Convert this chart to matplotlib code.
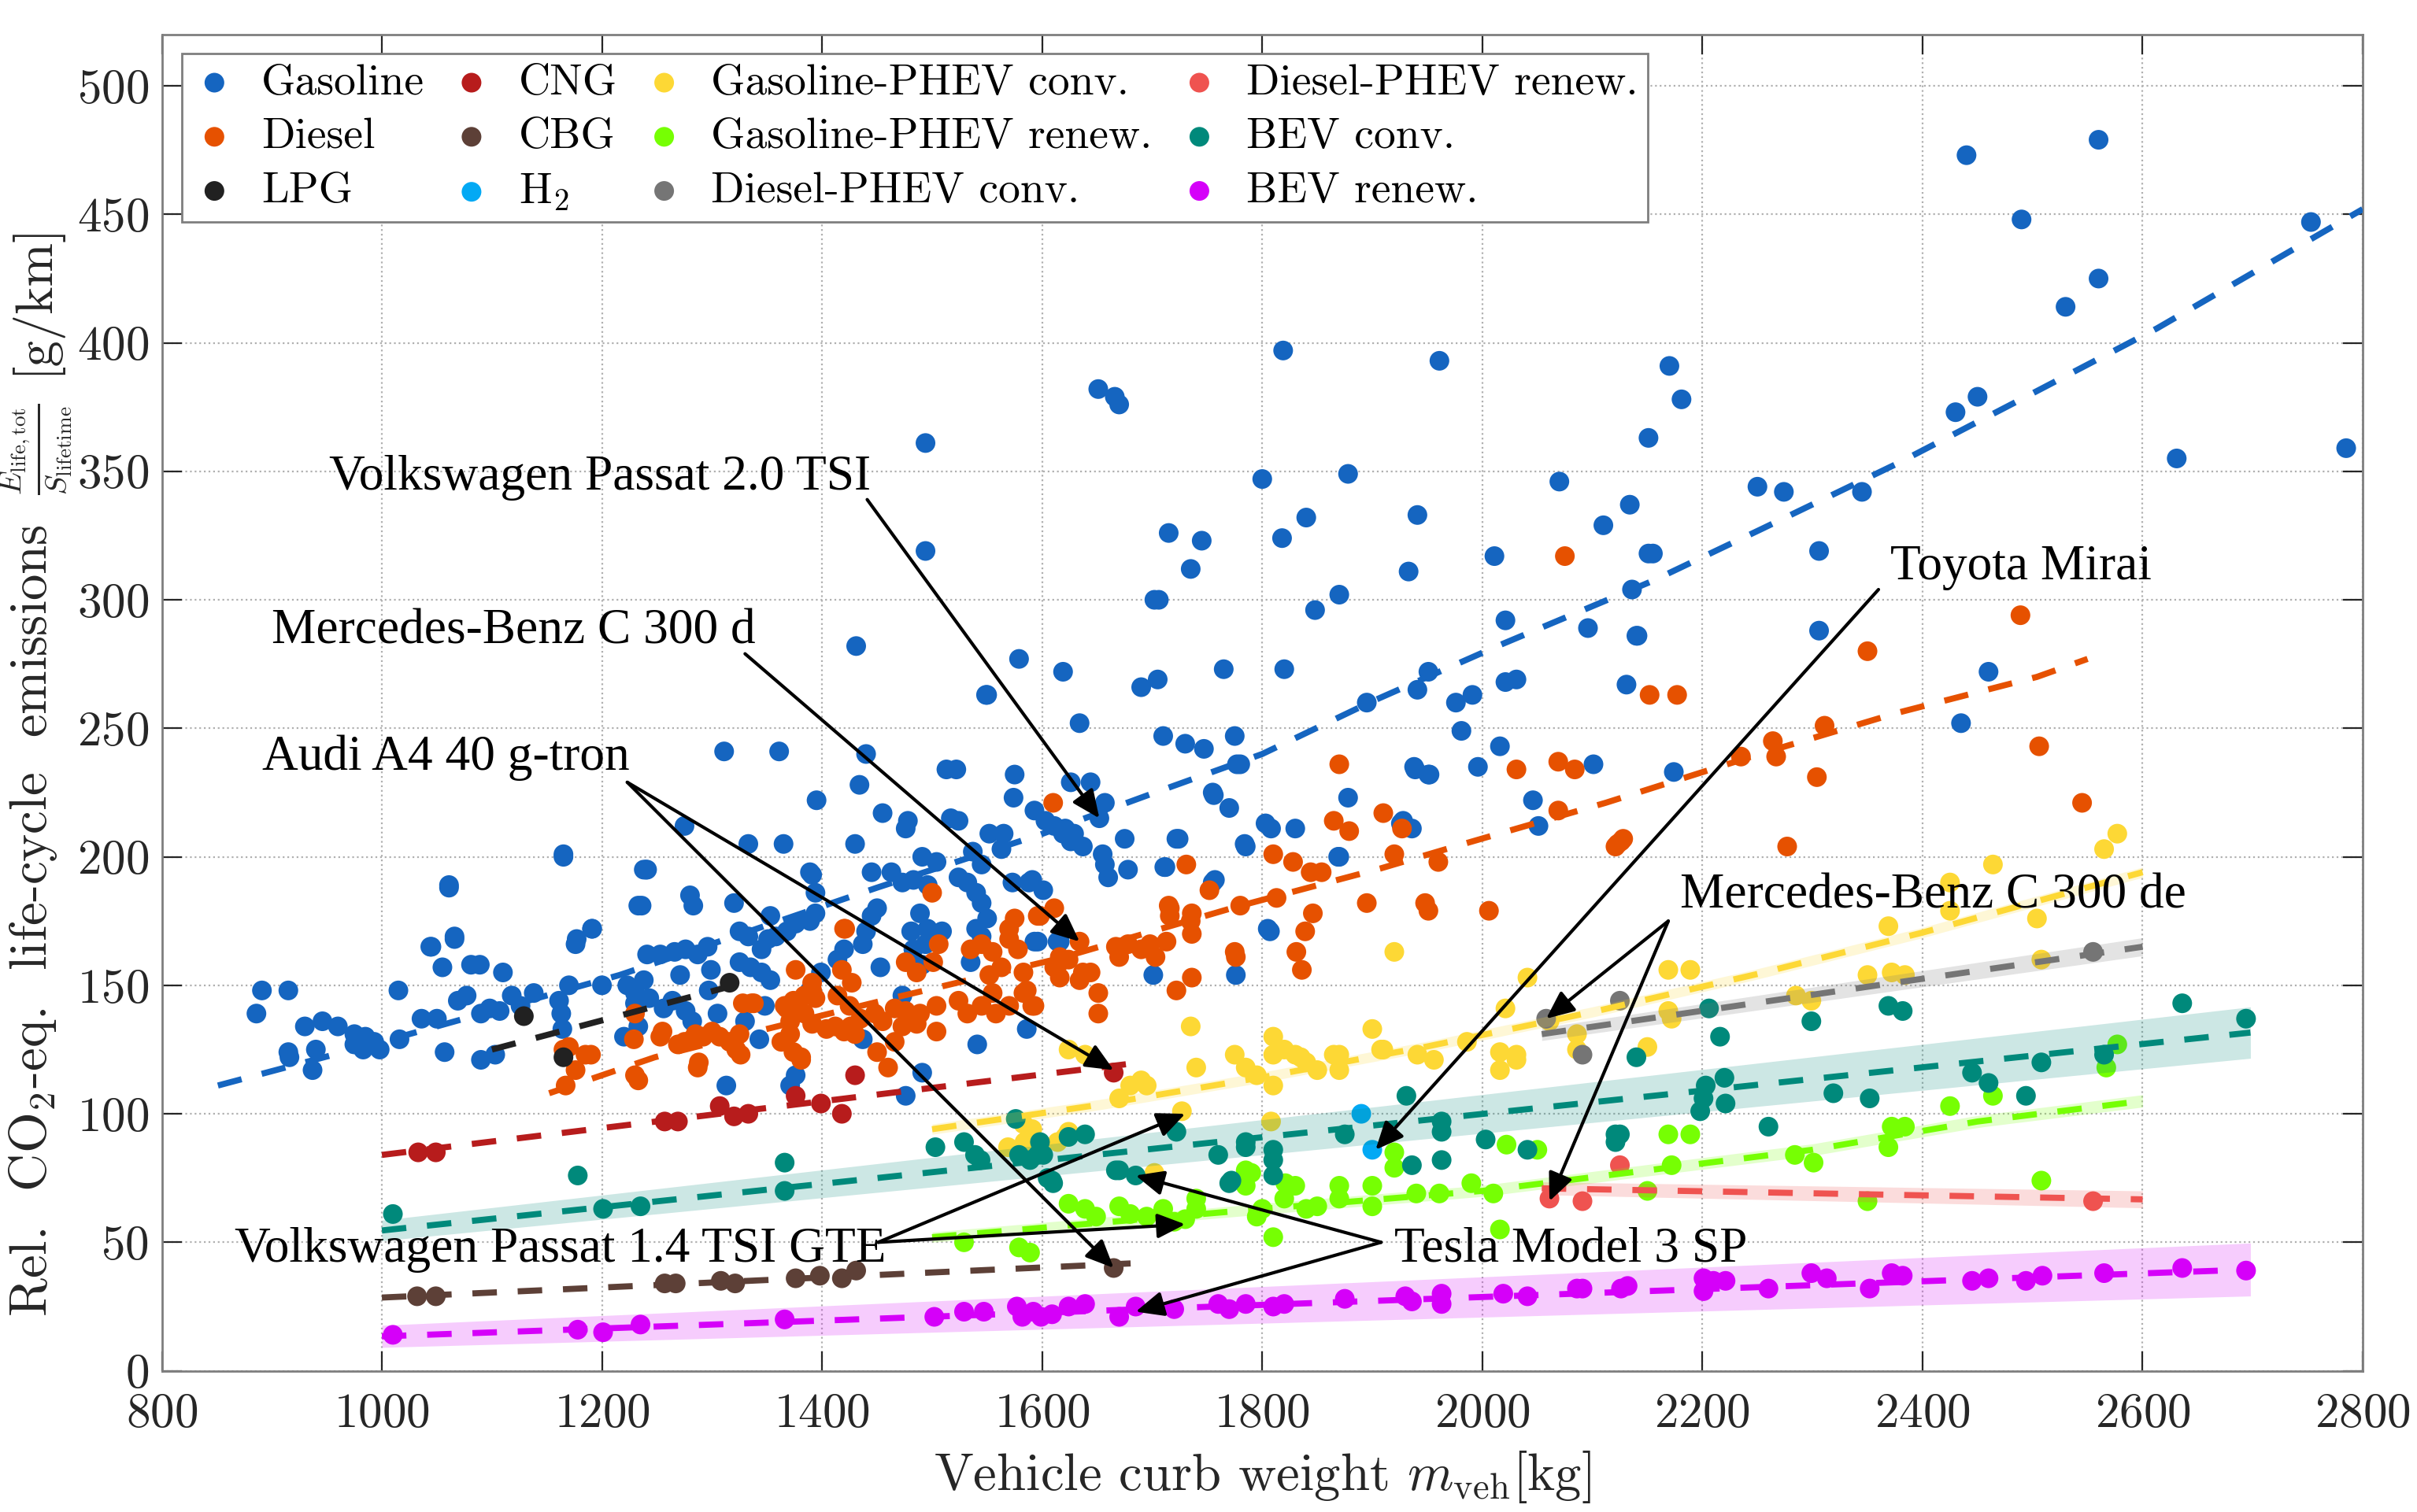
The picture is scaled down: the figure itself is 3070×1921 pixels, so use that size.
import matplotlib
matplotlib.use('Agg')
import matplotlib.pyplot as plt
import numpy as np

plt.rcParams['mathtext.fontset'] = 'cm'
plt.rcParams['axes.formatter.use_mathtext'] = True
plt.rcParams['font.family'] = ['cmr10', 'DejaVu Serif']

# ---------------- data ----------------
labels = ['Gasoline', 'Diesel', 'LPG', 'CNG', 'CBG', 'H$_2$',
          'Gasoline-PHEV conv.', 'Gasoline-PHEV renew.', 'Diesel-PHEV conv.',
          'Diesel-PHEV renew.', 'BEV conv.', 'BEV renew.']
colors = ['#1565c0', '#e65100', '#212121', '#b71c1c', '#5d4037', '#03a9f4',
          '#fdd835', '#76ff03', '#757575', '#ef5350', '#00897b', '#d500f9']

gas_x = [891, 915, 886, 930, 946, 960, 915, 916, 940, 937, 975, 985, 975, 993, 998, 983, 1015, 1016, 1036, 1050,
         1057, 1045, 1066, 1061, 1055, 1081, 1089, 1110, 1069, 1077, 1090, 1098, 1107, 1090, 1103, 1118, 1126, 1138,
         1165, 1176, 1191, 1170, 1161, 1163, 1164, 1200, 1223, 1230, 1220, 1233, 1238,
         1550, 1311, 1361, 1440, 1434, 1395, 1513, 1522, 1575, 1574, 1455, 1478, 1476, 1517, 1524, 1593, 1603, 1611,
         1619, 1275, 1333, 1365, 1430, 1552, 1565, 1563, 1491, 1504, 1537, 1545, 1241, 1389, 1445, 1463, 1473, 1483,
         1496, 1524, 1532, 1540, 1545, 1573, 1588, 1601, 1236, 1280, 1283, 1320, 1394, 1353, 1394, 1389, 1376, 1368,
         1358, 1351, 1345, 1325, 1333, 1450, 1445, 1440, 1437, 1420, 1414, 1489, 1481, 1496, 1509, 1494, 1483, 1491,
         1550, 1540, 1545, 1535, 1596, 1616, 1241, 1253, 1266, 1276, 1287, 1296, 1325, 1335, 1345, 1353, 1299, 1271,
         1238, 1230, 1243, 1264, 1276, 1256, 1282, 1297, 1305, 1330, 1348, 1343, 1389, 1399, 1453, 1473, 1437, 1586,
         1541, 1491, 1376, 1371, 1313, 1476, 1233,
         1626, 1644, 1657, 1652, 1621, 1629, 1637, 1626, 1675, 1655, 1657, 1660, 1678, 1724, 1711, 1757, 1756, 1770,
         1780, 1784, 1803, 1808, 1830, 1878, 1869, 1939, 1952, 1928, 1936, 1807, 1701, 1776, 1593, 1614, 1591,
         1800, 1878, 2070, 1840, 1818, 1941, 1933, 2134, 2110, 1715, 1745, 1735, 1702, 1706, 1848, 1870, 2011, 2021,
         2096, 2141, 2151, 2136, 2131, 1431, 1579, 1494, 1619, 1549, 1634, 1690, 1705, 1765, 1820, 1895, 1941, 1951,
         1976, 1991, 1981, 2021, 2031, 2016, 1710, 1730, 1747, 1775, 1777, 1938, 1951, 1996, 2101, 2046, 2051, 1755,
         1870, 1926, 1722, 1712, 1755, 1805, 1785,
         2250, 2274, 2345, 2155, 2140, 2306, 2306, 2174, 2460, 2435,
         2440, 2560, 2490, 2560, 2530, 2753, 2785, 2631, 2430, 2450, 2170, 2181, 2151, 1819, 1961, 1651, 1666, 1670,
         1494, 1165, 1240, 1391, 1061, 1044, 1066, 1177, 1191]
gas_y = [148, 148, 139, 134, 136, 134, 124, 122, 125, 117, 131, 130, 127, 128, 125, 125, 148, 129, 137, 137,
         124, 165, 169, 188, 157, 158, 158, 155, 144, 146, 139, 141, 140, 121, 123, 146, 142, 147,
         201, 166, 172, 150, 144, 139, 133, 150, 150, 143, 130, 181, 195,
         263, 241, 241, 240, 228, 222, 234, 234, 232, 223, 217, 214, 211, 215, 214, 218, 214, 212,
         209, 212, 205, 205, 205, 209, 209, 203, 200, 198, 202, 197, 195, 194, 194, 194, 190, 191,
         189, 192, 190, 186, 182, 190, 190, 187, 181, 185, 181, 182, 186, 177, 178, 175, 174, 171,
         169, 168, 164, 171, 169, 180, 177, 171, 166, 164, 160, 178, 171, 172, 171, 166, 164, 158,
         176, 172, 169, 159, 167, 167, 162, 162, 163, 164, 162, 165, 159, 157, 155, 152, 156, 154,
         152, 147, 145, 144, 140, 141, 136, 148, 139, 136, 142, 129, 148, 155, 157, 146, 129, 133,
         127, 116, 115, 111, 111, 107, 134,
         229, 229, 221, 215, 211, 209, 204, 206, 207, 201, 197, 192, 195, 207, 196, 191, 224, 219,
         236, 205, 213, 211, 211, 223, 200, 234, 232, 214, 211, 171, 154, 154, 167, 167, 191,
         347, 349, 346, 332, 324, 333, 311, 337, 329, 326, 323, 312, 300, 300, 296, 302, 317, 292,
         289, 286, 318, 304, 267, 282, 277, 319, 272, 263, 252, 266, 269, 273, 273, 260, 265, 272,
         260, 263, 249, 268, 269, 243, 247, 244, 242, 247, 236, 235, 232, 235, 236, 222, 212, 225,
         200, 213, 207, 196, 190, 172, 204,
         344, 342, 342, 318, 286, 319, 288, 233, 272, 252,
         473, 479, 448, 425, 414, 447, 359, 355, 373, 379, 391, 378, 363, 397, 393, 382, 379, 376,
         361, 200, 195, 193, 189, 165, 168, 168, 172]

dsl_x = [1165, 1176, 1190, 1167, 1230, 1229, 1230, 1170, 1185, 1255, 1275, 1285, 1300, 1288, 1316, 1326, 1336,
         1366, 1376, 1391, 1371, 1381, 1418, 1421, 1426,
         1610, 1500, 1611, 1575, 1570, 1598, 1506, 1535, 1545, 1555, 1570, 1578, 1563, 1552, 1583, 1476, 1486,
         1501, 1616, 1616, 1420, 1427, 1414, 1425, 1435, 1448, 1455, 1391, 1384, 1394, 1374, 1384, 1391, 1404,
         1412, 1368, 1371, 1328, 1338, 1420, 1430, 1466, 1476, 1489, 1504, 1486, 1473, 1524, 1532, 1545, 1558,
         1555, 1570, 1583, 1593, 1586, 1504, 1450, 1460, 1466, 1363, 1374, 1381, 1287, 1233, 1253, 1269, 1282,
         1292, 1307, 1322, 1325,
         1596, 1634, 1616, 1624, 1611, 1637, 1644, 1634, 1591, 1651, 1651, 1667, 1678, 1690, 1698, 1703, 1670,
         1713, 1716, 1716, 1736, 1736, 1731, 1752, 1780, 1813, 1776, 1736, 1722, 1810, 1828, 1844, 1854, 1846,
         1839, 1831, 1836, 1865, 1879, 1870, 1895, 1910, 1927, 1920, 1960, 1948, 1951,
         2075, 2069, 2084, 2031, 2069, 2121, 2126, 2006, 1775, 1715, 1735,
         2489, 2350, 2152, 2177, 2311, 2264, 2267, 2235, 2304, 2506, 2545, 2123, 2128, 2277]
dsl_y = [125, 117, 123, 111, 139, 129, 115, 126, 123, 132, 128, 131, 132, 120, 128, 123, 143,
         142, 156, 148, 131, 122, 156, 172, 134,
         221, 186, 180, 176, 172, 177, 166, 164, 166, 163, 168, 164, 157, 154, 155, 159, 155,
         159, 159, 153, 172, 151, 146, 142, 137, 139, 136, 151, 146, 145, 144, 139, 135, 133,
         134, 141, 136, 143, 143, 132, 131, 141, 140, 139, 142, 135, 134, 144, 139, 142, 139,
         147, 142, 147, 142, 148, 132, 124, 118, 128, 128, 124, 121, 118, 113, 130, 127, 129,
         130, 130, 125, 131,
         177, 167, 161, 160, 157, 155, 155, 152, 142, 147, 139, 165, 166, 164, 166, 161, 161,
         167, 180, 177, 178, 170, 197, 187, 181, 184, 161, 153, 148, 201, 198, 194, 194, 178,
         171, 163, 156, 214, 210, 236, 182, 217, 211, 201, 198, 182, 179,
         317, 237, 234, 234, 218, 204, 206, 179, 163, 181, 175,
         294, 280, 263, 263, 251, 245, 239, 239, 231, 243, 221, 205, 207, 204]

lpg_x = [1129, 1165, 1316]
lpg_y = [138, 122, 151]
cng_x = [1033, 1049, 1257, 1269, 1307, 1320, 1333, 1376, 1399, 1418, 1430, 1665]
cng_y = [85, 85, 97, 97, 103, 99, 100, 107, 104, 100, 115, 116]
cbg_x = [1032, 1049, 1257, 1267, 1308, 1321, 1376, 1398, 1418, 1431, 1665]
cbg_y = [29, 29, 34, 34, 35, 34, 36, 37, 36, 39, 40]
h2_x = [1890, 1900]
h2_y = [100, 86]

gpc_x = [1624, 1639, 1690, 1695, 1670, 1727, 1735, 1810, 1810, 1775, 1785, 1795, 1810, 1830, 1840, 1850, 1870,
         1870, 1910, 1941, 1956, 1986, 2016, 2016, 2031, 2061, 1808, 1614, 1624, 1569, 1584, 1702, 1920, 2041,
         2021, 2031, 1900, 1908, 1820, 1835, 1865, 1740, 1680, 2086, 2086, 2577, 2565, 2464, 2425, 2425, 2504,
         2369, 2350, 2372, 2384, 2508, 2169, 2189, 2285, 2299, 2169, 2172, 2150, 1583, 1591, 1621]
gpc_y = [125, 123, 113, 111, 106, 101, 134, 130, 123, 123, 118, 115, 111, 123, 120, 117, 123,
         117, 125, 123, 121, 128, 124, 117, 121, 136, 97, 89, 93, 87, 89, 77, 163, 153,
         141, 123, 133, 125, 125, 122, 123, 118, 111, 131, 125, 209, 203, 197, 190, 179, 176,
         173, 154, 155, 154, 160, 156, 156, 146, 144, 140, 137, 126, 96, 94, 91]

gpr_x = [1529, 1579, 1589, 1624, 1639, 1649, 1670, 1680, 1695, 1710, 1720, 1730, 1740, 1740, 1785, 1785, 1810,
         1795, 1800, 1820, 1830, 1840, 1850, 1870, 1870, 1900, 1900, 1920, 1940, 1961, 1990, 2010, 2016, 2022,
         2050, 2169, 2189, 2172, 2150, 2284, 2301, 2350, 2372, 2384, 2369, 2425, 2464, 2508, 2577, 2567, 1790,
         1920, 1821]
gpr_y = [50, 48, 46, 65, 63, 60, 64, 61, 60, 63, 58, 59, 67, 63, 78, 72, 52,
         60, 63, 67, 72, 63, 64, 67, 72, 72, 64, 85, 69, 69, 73, 69, 55, 88,
         86, 92, 92, 80, 70, 84, 81, 66, 95, 95, 87, 103, 107, 74, 127, 118, 77,
         79, 73]

dpc_x = [2058, 2091, 2125, 2555]
dpc_y = [137, 123, 144, 163]
dpr_x = [2061, 2091, 2125, 2555]
dpr_y = [67, 66, 80, 66]

bevc_x = [1010, 1178, 1201, 1235, 1366, 1366, 1503, 1529, 1539, 1544, 1576, 1579, 1589, 1598, 1601, 1605, 1610,
          1624, 1639, 1670, 1685, 1722, 1760, 1785, 1785, 1770, 1810, 1810, 1810, 1875, 1931, 1936, 1963, 1963,
          1963, 2003, 2041, 2121, 2121, 2206, 2216, 2203, 2220, 2201, 2221, 2198, 2260, 2319, 2352, 2369, 2382,
          2299, 2445, 2460, 2494, 2508, 2565, 2636, 2694, 2125, 2140, 1667, 1596, 1609, 1772]
bevc_y = [61, 76, 63, 64, 81, 70, 87, 89, 84, 82, 98, 84, 82, 89, 84, 75, 73,
          91, 92, 78, 76, 93, 84, 87, 89, 73, 86, 82, 76, 92, 107, 80, 97, 93,
          82, 90, 86, 92, 89, 141, 130, 111, 114, 106, 104, 101, 95, 108, 106, 142, 140,
          136, 116, 112, 107, 120, 123, 143, 137, 92, 122, 78, 84, 74, 74]

bevr_x = [1010, 1178, 1201, 1235, 1366, 1502, 1529, 1547, 1577, 1582, 1592, 1599, 1609, 1624, 1639, 1670, 1685,
          1720, 1760, 1770, 1785, 1810, 1820, 1875, 1930, 1936, 1963, 1963, 2019, 2041, 2086, 2126, 2091, 2132,
          2201, 2210, 2201, 2221, 2260, 2299, 2313, 2352, 2372, 2382, 2445, 2460, 2494, 2509, 2565, 2636, 2694]
bevr_y = [14, 16, 15, 18, 20, 21, 23, 23, 25, 21, 23, 21, 22, 25, 26, 21, 25,
          24, 26, 24, 26, 25, 26, 28, 29, 27, 30, 26, 30, 29, 32, 32, 32, 33,
          36, 35, 31, 35, 32, 38, 36, 32, 38, 37, 35, 36, 35, 37, 38, 40, 39]

# trend lines
gas_fit_x = [851, 1000, 1216, 1327, 1450, 1598, 1700, 1800, 1900, 2016, 2155, 2254, 2377, 2494, 2613, 2800]
gas_fit_y = [111, 128, 154, 170, 188, 208.6, 224.6, 240, 260.5, 282.4, 307.4, 327.6, 353, 379, 405.6, 452]
dsl_fit_x = [1152, 1248, 1345, 1464, 1616, 1777, 1907, 1983, 2112, 2252, 2377, 2504, 2550]
dsl_fit_y = [108, 122, 132.5, 145, 160.5, 180.6, 195.4, 205, 221, 240, 256, 270, 277]
lpg_fit_x = [1100, 1338]
lpg_fit_y = [125, 152]
cng_fit_x = [1000, 1690]
cng_fit_y = [84, 120]
cbg_fit_x = [1000, 1692]
cbg_fit_y = [28.5, 42]
gpc_fit_x = [1500, 1650, 1800, 1950, 2100, 2250, 2400, 2600]
gpc_fit_y = [94, 103.4, 114.2, 126.2, 139.6, 154.4, 170.5, 194]
gpr_fit_x = [1500, 1800, 2000, 2150, 2300, 2450, 2600]
gpr_fit_y = [52, 63, 70, 78, 86, 97, 105]
dpc_fit_x = [2054, 2600]
dpc_fit_y = [131, 165]
dpr_fit_x = [2054, 2600]
dpr_fit_y = [71, 66.7]
bevc_fit_x = [1000, 2698]
bevc_fit_y = [54.6, 131.6]
bevr_fit_x = [1000, 2698]
bevr_fit_y = [13.4, 39.4]

# confidence band half widths at the fit ends
gpc_band = [2, 2]
gpr_band = [2, 2.4]
dpc_band = [2.5, 3.5]
dpr_band = [2.5, 3.3]
bevc_band = [4, 10]
bevr_band = [4.3, 10.3]

# annotations: text, text (x, baseline y), arrow start, arrow targets
ann_text = ['Volkswagen Passat 2.0 TSI', 'Mercedes-Benz C 300 d', 'Audi A4 40 g-tron', 'Toyota Mirai',
            'Mercedes-Benz C 300 de', 'Volkswagen Passat 1.4 TSI GTE', 'Tesla Model 3 SP']
ann_pos = [(952, 343), (900, 283), (891, 234), (2371, 308), (2180, 180), (866, 42.4), (1920, 42.4)]
ann_start = [(1441, 339), (1330, 279), (1223, 229), (2360, 304), (2169, 175), (1451, 50), (1908, 50)]
ann_targets = [[(1652, 215)], [(1634, 167)], [(1665, 117), (1665, 40)], [(1903, 86)],
               [(2058, 137), (2061, 66)], [(1730, 100), (1730, 57)], [(1685, 76), (1685, 23)]]

ylabel_main = r'Rel.  CO$_2$-eq.  life-cycle  emissions'
ylabel_frac = r'$\frac{E_{\mathrm{life,tot}}}{S_{\mathrm{lifetime}}}$'
ylabel_unit = '[g/km]'
xlabel_text = r'Vehicle curb weight $m_{\mathrm{veh}}$[kg]'

# ---------------- plot ----------------
fig = plt.figure(figsize=(15.35, 9.605), dpi=200)
ax = fig.add_axes([0.06694, 0.09339, 0.91059, 0.88386])

series = [(gas_x, gas_y), (dsl_x, dsl_y), (lpg_x, lpg_y), (cng_x, cng_y), (cbg_x, cbg_y), (h2_x, h2_y),
          (gpc_x, gpc_y), (gpr_x, gpr_y), (dpc_x, dpc_y), (dpr_x, dpr_y), (bevc_x, bevc_y), (bevr_x, bevr_y)]
fits = [(gas_fit_x, gas_fit_y, None), (dsl_fit_x, dsl_fit_y, None), (lpg_fit_x, lpg_fit_y, None),
        (cng_fit_x, cng_fit_y, None), (cbg_fit_x, cbg_fit_y, None), None,
        (gpc_fit_x, gpc_fit_y, gpc_band), (gpr_fit_x, gpr_fit_y, gpr_band), (dpc_fit_x, dpc_fit_y, dpc_band),
        (dpr_fit_x, dpr_fit_y, dpr_band), (bevc_fit_x, bevc_fit_y, bevc_band), (bevr_fit_x, bevr_fit_y, bevr_band)]

handles = []
for (sx, sy), lab, col in zip(series, labels, colors):
    h = ax.scatter(sx, sy, s=81, color=col, edgecolors='none', label=lab, zorder=3)
    handles.append(h)

for f, col in zip(fits, colors):
    if f is None:
        continue
    fx, fy, band = f
    fx = np.asarray(fx, float)
    fy = np.asarray(fy, float)
    if band is not None:
        xx = np.linspace(fx[0], fx[-1], 100)
        yy = np.interp(xx, fx, fy)
        hw = np.interp(xx, [fx[0], fx[-1]], band)
        ax.fill_between(xx, yy - hw, yy + hw, color=col, alpha=0.2, lw=0, zorder=4)
    ax.plot(fx, fy, color=col, lw=2.8, linestyle=(0, (4, 3.4)), zorder=5)

for txt, pos, st, tg in zip(ann_text, ann_pos, ann_start, ann_targets):
    ax.text(pos[0], pos[1], txt, fontsize=22.8, family='Liberation Serif', ha='left', va='baseline',
            color='black', zorder=7)
    for t in tg:
        ax.annotate('', xy=t, xytext=st,
                    arrowprops=dict(arrowstyle='-|>,head_length=0.45,head_width=0.2', color='black',
                                    lw=1.5, mutation_scale=24, shrinkA=0, shrinkB=0), zorder=6)

ax.set_xlim(800, 2800)
ax.set_ylim(0, 520)
ax.set_xticks(np.arange(800, 2801, 200))
ax.set_yticks(np.arange(0, 501, 50))
ax.grid(True, linestyle=':', color='#b0b0b0', lw=0.8)
ax.set_axisbelow(True)
ax.tick_params(direction='in', length=9, width=0.8, top=True, right=True, labelsize=22,
               labelcolor='#262626', color='#262626')
ax.tick_params(axis='x', pad=10)
ax.tick_params(axis='y', pad=6)
for sp in ax.spines.values():
    sp.set_color('#7f7f7f')
    sp.set_linewidth(1.0)

ax.set_xlabel(xlabel_text, fontsize=24, color='#262626', labelpad=6)

# y label built from three rotated pieces so the fraction stays compact
ax.text(-0.0524, 0.6335, ylabel_main, transform=ax.transAxes, rotation=90, rotation_mode='anchor',
        ha='right', va='baseline', fontsize=24, color='#262626')
ax.text(-0.0572, 0.6895, ylabel_frac, transform=ax.transAxes, rotation=90, rotation_mode='anchor',
        ha='center', va='center', fontsize=20, color='#262626')
ax.text(-0.0524, 0.7454, ylabel_unit, transform=ax.transAxes, rotation=90, rotation_mode='anchor',
        ha='left', va='baseline', fontsize=24, color='#262626')

leg = ax.legend(handles=handles, ncol=4, loc='upper left', bbox_to_anchor=(0.0091, 0.9854),
                borderaxespad=0, fontsize=20, handlelength=1.05, handletextpad=0.55, columnspacing=0.55,
                labelspacing=0.34, borderpad=0.22, fancybox=False, framealpha=1, edgecolor='#7f7f7f')
leg.get_frame().set_linewidth(1.0)
leg.set_zorder(10)

fig.savefig('out.png', dpi=200)
